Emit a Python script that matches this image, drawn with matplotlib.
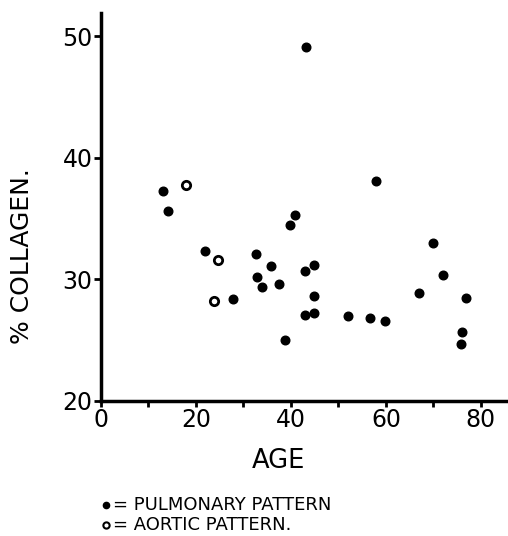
import matplotlib
matplotlib.use("Agg")
import matplotlib.pyplot as plt
from matplotlib.ticker import MultipleLocator

# Lectura de los puntos del grafico (edad, % colageno)
edad_pulmonar = [13.0, 14.1, 22.0, 27.8, 32.7, 32.8, 34.0, 35.9, 37.5, 38.7,
                 39.7, 40.9, 42.9, 44.9, 44.8, 42.9, 44.9, 43.2, 52.0, 56.7,
                 59.7, 58.0, 66.9, 70.0, 72.1, 76.9, 76.0, 75.9]
colageno_pulmonar = [37.3, 35.6, 32.3, 28.4, 32.1, 30.2, 29.4, 31.1, 29.6, 25.0,
                     34.5, 35.3, 30.7, 31.2, 28.6, 27.1, 27.2, 49.1, 27.0, 26.8,
                     26.6, 38.1, 28.9, 33.0, 30.4, 28.5, 25.7, 24.7]

edad_aortica = [17.8, 24.7, 23.8]
colageno_aortica = [37.8, 31.6, 28.2]

xticks = [0, 20, 40, 60, 80]
yticks = [20, 30, 40, 50]

fig = plt.figure(figsize=(5.08, 5.36), dpi=100)
ax = fig.add_axes([0.1988, 0.2519, 0.8012, 0.7238])

ax.plot(edad_pulmonar, colageno_pulmonar, 'o', color='black', markersize=6.2, clip_on=False)
ax.plot(edad_aortica, colageno_aortica, 'o', markerfacecolor='white',
        markeredgecolor='black', markeredgewidth=2, markersize=6, clip_on=False)

ax.set_xlim(0, 85.7)
ax.set_ylim(20, 51.9)
ax.set_xticks(xticks)
ax.set_yticks(yticks)
ax.xaxis.set_minor_locator(MultipleLocator(10))

for lado in ['top', 'right']:
    ax.spines[lado].set_visible(False)
for lado in ['left', 'bottom']:
    ax.spines[lado].set_linewidth(2.5)

ax.tick_params(axis='both', which='both', direction='out', width=2, colors='black')
ax.tick_params(axis='y', length=5, pad=1, labelsize=17)
ax.tick_params(axis='x', which='major', length=4, pad=1, labelsize=17)
ax.tick_params(axis='x', which='minor', length=4)

fig.text(278 / 508, 1 - 461 / 536, 'AGE', fontsize=18.5, ha='center', va='center')
fig.text(22 / 508, 1 - 256 / 536, '% COLLAGEN.', fontsize=18, rotation=90,
         ha='center', va='center')

# leyenda dibujada a mano, como en el original
ax.plot([106 / 508], [1 - 505 / 536], 'o', color='black', markersize=4.5,
        transform=fig.transFigure, clip_on=False)
ax.plot([106 / 508], [1 - 525 / 536], 'o', markerfacecolor='white',
        markeredgecolor='black', markeredgewidth=1.5, markersize=4.5,
        transform=fig.transFigure, clip_on=False)
fig.text(113 / 508, 1 - 505 / 536, '= PULMONARY PATTERN', fontsize=13, va='center')
fig.text(113 / 508, 1 - 525 / 536, '= AORTIC PATTERN.', fontsize=13, va='center')

fig.savefig('out.png', dpi=100)
